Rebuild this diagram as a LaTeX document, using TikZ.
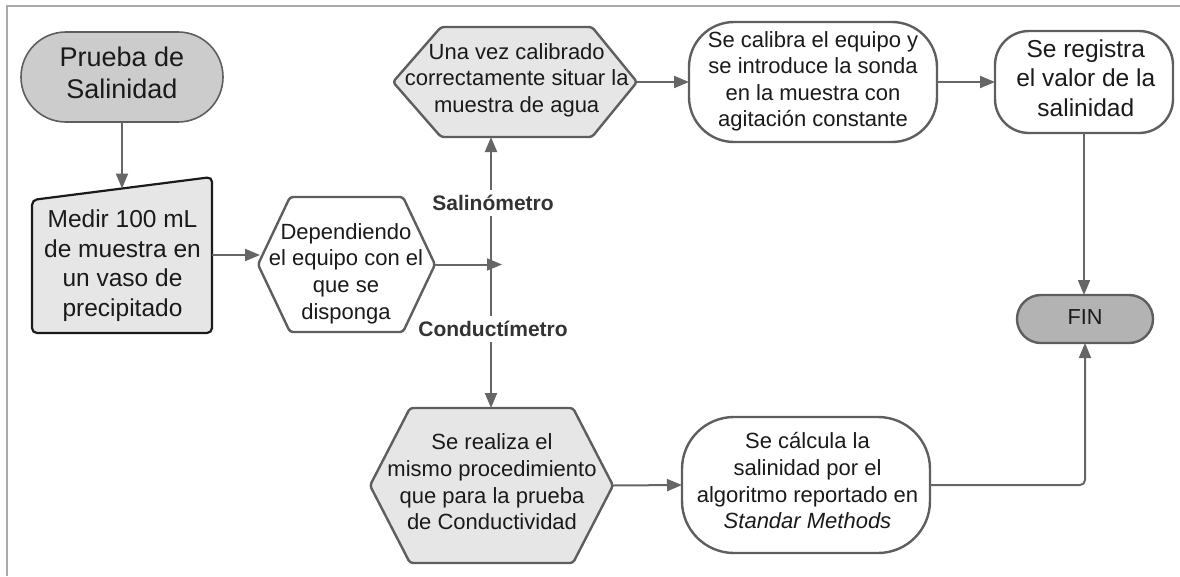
\documentclass[tikz,border=0pt]{standalone}
\usepackage{fontspec}
\setmainfont{Liberation Sans}
\usetikzlibrary{arrows.meta,calc}
\definecolor{ln}{HTML}{666666}
\definecolor{ol}{HTML}{5E5E5E}
\definecolor{fa}{HTML}{CCCCCC}
\definecolor{fb}{HTML}{E6E6E6}
\definecolor{fc}{HTML}{B3B3B3}
\definecolor{tx}{HTML}{1A1A1A}
\definecolor{lb}{HTML}{333333}
\definecolor{frm}{HTML}{AAAAAA}
\begin{document}
\begin{tikzpicture}[x=1pt,y=-1pt,
  area/.style 2 args={inner sep=0pt,outer sep=0pt,minimum width=#1,minimum height=#2},
  sh/.style={draw=ol,line width=2.4pt,line join=round},
  txt/.style={inner sep=0pt,align=center,text=tx},
  fA/.style={font=\fontsize{22}{26.6}\selectfont},
  fB/.style={font=\fontsize{24.5}{29.5}\selectfont},
  lab/.style={fill=white,inner xsep=2pt,inner ysep=5pt,text=lb,font=\fontsize{21}{24}\selectfont\bfseries},
  arr/.style={draw=ln,line width=2pt,-{Triangle[length=15pt,width=12pt]}},
  frame/.style={draw=frm,line width=2pt}]
\useasboundingbox (0,0) rectangle (1180,576);
\draw[frame] (7,576) -- (7,6) -- (1180,6);

% shape nodes
\node[area={202pt}{90pt}] (ini) at (122,77) {};
\node[area={180pt}{156pt}] (med) at (122,255) {};
\node[area={177pt}{135pt}] (dep) at (346.5,264.5) {};
\node[area={244pt}{110pt}] (una) at (515,82) {};
\node[area={248pt}{120pt}] (cal) at (813,82) {};
\node[area={178pt}{102pt}] (reg) at (1084,82) {};
\node[area={136pt}{48pt}] (fin) at (1085,319) {};
\node[area={243pt}{155pt}] (rea) at (491.5,485.5) {};
\node[area={248pt}{136pt}] (calc) at (806,485) {};

% outlines
\draw[draw=ol,line width=1.6pt,fill=fa,rounded corners=44.9pt] (ini.north west) rectangle (ini.south east);
\draw[draw=tx,line width=2.2pt,fill=fb,rounded corners=5pt] ($(med.north west)+(0,23)$) -- (med.north east) -- (med.south east) -- (med.south west) -- cycle;
\draw[sh,fill=white,rounded corners=3pt] (dep.west) -- ($(dep.north west)+(32,0)$) -- ($(dep.north east)+(-32,0)$) -- (dep.east) -- ($(dep.south east)+(-32,0)$) -- ($(dep.south west)+(32,0)$) -- cycle;
\draw[sh,fill=fb,rounded corners=3pt] (una.west) -- ($(una.north west)+(48,0)$) -- ($(una.north east)+(-45,0)$) -- (una.east) -- ($(una.south east)+(-45,0)$) -- ($(una.south west)+(48,0)$) -- cycle;
\draw[sh,fill=fb,rounded corners=3pt] (rea.west) -- ($(rea.north west)+(40,0)$) -- ($(rea.north east)+(-40,0)$) -- (rea.east) -- ($(rea.south east)+(-40,0)$) -- ($(rea.south west)+(40,0)$) -- cycle;
\draw[sh,fill=white,rounded corners=45pt] (cal.north west) rectangle (cal.south east);
\draw[sh,fill=white,rounded corners=34pt] (reg.north west) rectangle (reg.south east);
\draw[sh,fill=white,rounded corners=52pt] (calc.north west) rectangle (calc.south east);
\draw[sh,fill=fc,rounded corners=23.9pt] (fin.north west) rectangle (fin.south east);

% texts
\node[txt,font=\fontsize{27}{32.5}\selectfont] (tini) at (122,73) {Prueba de\\Salinidad};
\node[txt,fB] (tmed) at (122.5,265.8) {Medir 100 mL\\de muestra en\\un vaso de\\precipitado};
\node[txt,fA] (tdep) at (346,273.5) {Dependiendo\\el equipo con el\\que se\\disponga};
\node[txt,fA] (tuna) at (516.7,80.3) {Una vez calibrado\\correctamente situar la\\muestra de agua};
\node[txt,fA] (tcal) at (813,81.3) {Se calibra el equipo y\\se introduce la sonda\\en la muestra con\\agitación constante};
\node[txt,fB] (treg) at (1085.8,78) {Se registra\\el valor de la\\salinidad};
\node[txt,font=\fontsize{21.7}{26}\selectfont] (tfin) at (1085,317) {FIN};
\node[txt,fA] (trea) at (492,482) {Se realiza el\\mismo procedimiento\\que para la prueba\\de Conductividad};
\node[txt,fA] (tcalc) at (807.5,480.8) {Se cálcula la\\salinidad por el\\algoritmo reportado en\\\textit{Standar Methods}};

% connectors
\coordinate (medtop) at ($(med.north)+(0,11.5)$);
\coordinate (j) at (491,264.5);
\coordinate (jt) at (502,264.5);
\draw[arr] (ini.south) -- (medtop);
\draw[arr] (med.east) -- ($(med.east -| dep.west)+(2,0)$);
\draw[arr] (j) -- (j |- una.south);
\draw[arr] (j) -- (j |- rea.north);
\draw[arr] (dep.east) -- (jt);
\draw[arr] (una.east) -- (cal.west);
\draw[arr] (cal.east) -- (reg.west);
\draw[arr] (reg.south) -- (reg.south |- fin.north);
\draw[arr] (rea.east) -- (calc.west);
\draw[arr,rounded corners=5pt] (calc.east) -| (fin.south);
\node[lab] (lsal) at (493,203) {Salinómetro};
\node[lab] (lcon) at (493,329) {Conductímetro};
\end{tikzpicture}
\end{document}
